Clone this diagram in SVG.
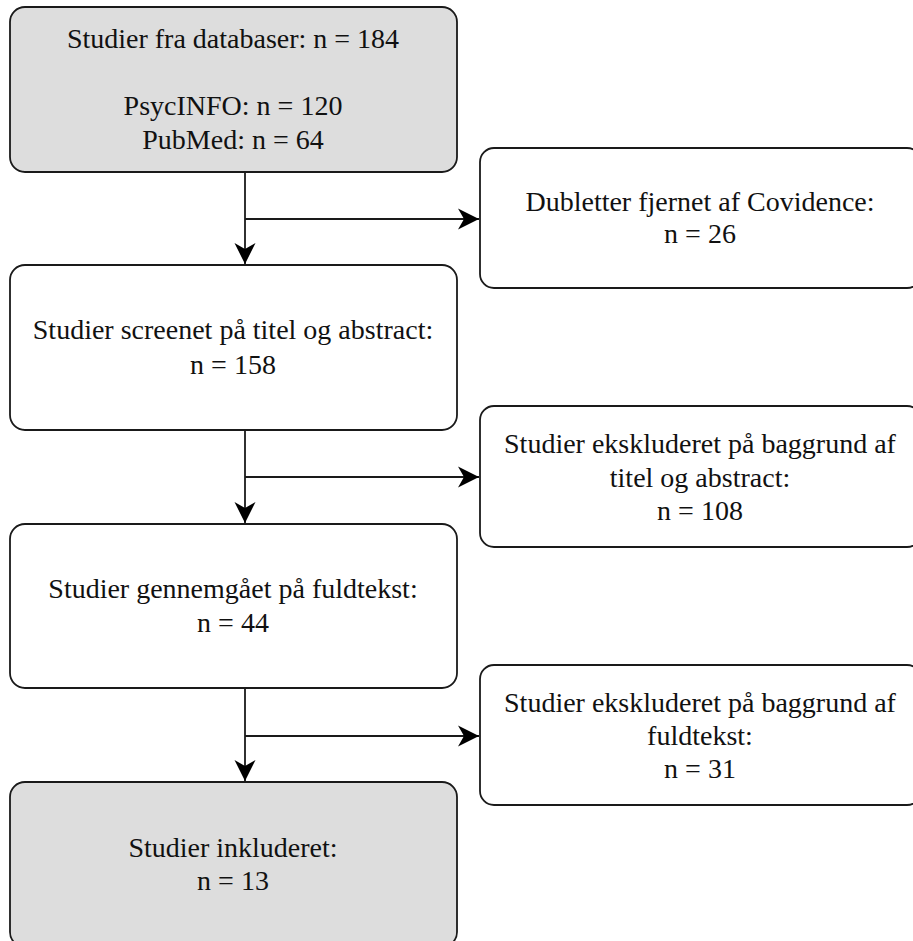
<svg xmlns="http://www.w3.org/2000/svg" width="913" height="941" viewBox="0 0 913 941">
  <style>
    .box { stroke: #1a1a1a; stroke-width: 1.8; }
    .grey { fill: #dddddd; }
    .white { fill: #ffffff; }
    .t { font-family: "Liberation Serif", "Times New Roman", serif; font-size: 28px; fill: #111111; text-anchor: middle; }
    .conn { fill: none; stroke: #1a1a1a; stroke-width: 1.8; }
  </style>
  <defs>
    <marker id="arr" markerUnits="userSpaceOnUse" markerWidth="26" markerHeight="26" viewBox="-24 -13 26 26" refX="0" refY="0" orient="auto">
      <path d="M0,0 L-21,-10.5 L-15,0 L-21,10.5 Z" fill="#000000"/>
    </marker>
  </defs>
  <rect width="913" height="941" fill="#ffffff"/>

  <g id="connectors">
    <path class="conn" d="M245,172 V264" marker-end="url(#arr)"/>
    <path class="conn" d="M245,219 H479" marker-end="url(#arr)"/>
    <path class="conn" d="M245,430 V523" marker-end="url(#arr)"/>
    <path class="conn" d="M245,477 H479" marker-end="url(#arr)"/>
    <path class="conn" d="M245,688 V781" marker-end="url(#arr)"/>
    <path class="conn" d="M245,736 H479" marker-end="url(#arr)"/>
  </g>

  <g id="n1">
    <rect class="box grey" x="10" y="7" width="447" height="165" rx="15" ry="15"/>
    <text class="t" x="233" y="48">Studier fra databaser: n = 184</text>
    <text class="t" x="233" y="115">PsycINFO: n = 120</text>
    <text class="t" x="233" y="149">PubMed: n = 64</text>
  </g>

  <g id="n2">
    <rect class="box white" x="480" y="148" width="441" height="140" rx="14" ry="14"/>
    <text class="t" x="700" y="211">Dubletter fjernet af Covidence:</text>
    <text class="t" x="700" y="243">n = 26</text>
  </g>

  <g id="n3">
    <rect class="box white" x="10" y="265" width="447" height="165" rx="15" ry="15"/>
    <text class="t" x="233" y="339">Studier screenet på titel og abstract:</text>
    <text class="t" x="233" y="374">n = 158</text>
  </g>

  <g id="n4">
    <rect class="box white" x="480" y="406" width="441" height="141" rx="14" ry="14"/>
    <text class="t" x="700" y="453">Studier ekskluderet på baggrund af</text>
    <text class="t" x="700" y="487">titel og abstract:</text>
    <text class="t" x="700" y="520">n = 108</text>
  </g>

  <g id="n5">
    <rect class="box white" x="10" y="524" width="447" height="164" rx="15" ry="15"/>
    <text class="t" x="233" y="598">Studier gennemgået på fuldtekst:</text>
    <text class="t" x="233" y="632">n = 44</text>
  </g>

  <g id="n6">
    <rect class="box white" x="480" y="665" width="441" height="140" rx="14" ry="14"/>
    <text class="t" x="700" y="712">Studier ekskluderet på baggrund af</text>
    <text class="t" x="700" y="745">fuldtekst:</text>
    <text class="t" x="700" y="778">n = 31</text>
  </g>

  <g id="n7">
    <rect class="box grey" x="10" y="782" width="447" height="165" rx="15" ry="15"/>
    <text class="t" x="233" y="857">Studier inkluderet:</text>
    <text class="t" x="233" y="890">n = 13</text>
  </g>
</svg>
